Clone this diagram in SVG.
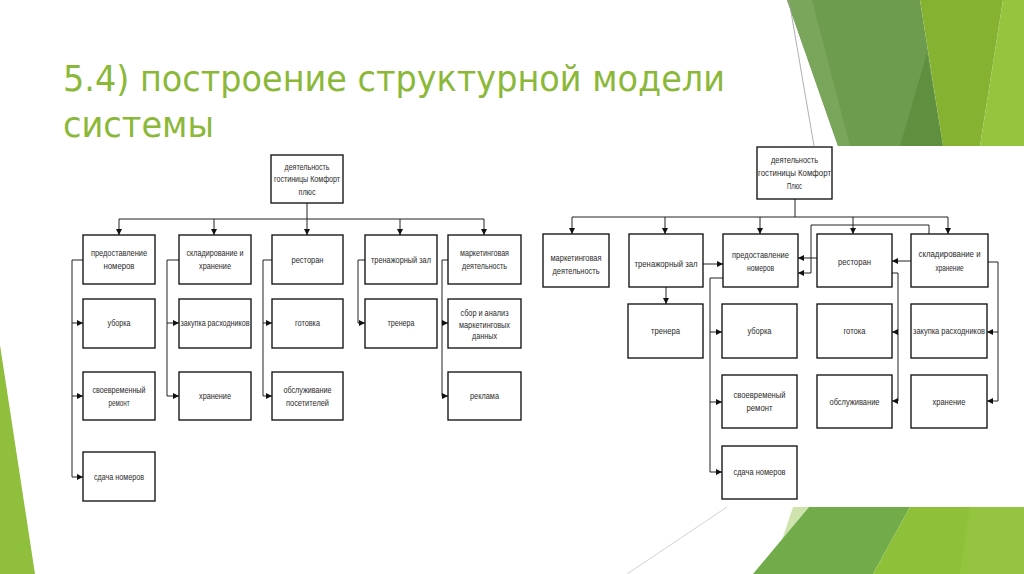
<svg xmlns="http://www.w3.org/2000/svg" width="1024" height="574" viewBox="0 0 1024 574">
<style>
.box{fill:#fff;stroke:#111;stroke-width:1.35}
.t{font-family:"Liberation Sans",Arial,sans-serif;font-size:9.5px;fill:#2a2a2a;text-anchor:middle}
.c{fill:none;stroke:#222;stroke-width:1}
.title{font-family:"DejaVu Sans Condensed","DejaVu Sans",sans-serif;font-size:35px;fill:#8BB838}
</style>
<defs>
<marker id="ah" markerUnits="userSpaceOnUse" markerWidth="6" markerHeight="6" refX="6" refY="3" orient="auto">
<path d="M0,0 L6,3 L0,6 z" fill="#111"/>
</marker>
</defs>
<rect width="1024" height="574" fill="#fff"/>
<g id="decor">
<polygon points="787,0 920,0 943,146 838,146" fill="#6E9C4E"/>
<polygon points="787,0 812,0 850,146 838,146" fill="#79A65A"/>
<polygon points="900,146 927,53 943,146" fill="#5F9040"/>
<polygon points="920,0 1003,0 980,146 943,146" fill="#86B232"/>
<polygon points="1003,0 1024,0 1024,146 980,146" fill="#95C43E"/>
<line x1="789" y1="0" x2="814" y2="146" stroke="#9a9a9a" stroke-width="0.8"/>
<polygon points="0,345 35,574 0,574" fill="#8FBF3D"/>
<line x1="727" y1="507" x2="627" y2="574" stroke="#c8c8c8" stroke-width="0.8"/>
<polygon points="793,507 809,507 782,540" fill="#CFE3AE"/>
<polygon points="809,507 910,507 873,574 753,574" fill="#72AC4A"/>
<polygon points="910,507 1024,507 1024,574 873,574" fill="#8EC03A"/>
<polygon points="970,507 1024,507 1024,574 960,574" fill="#95C540"/>
</g>
<g id="title">
<text class="title" x="63" y="91" textLength="662" lengthAdjust="spacingAndGlyphs">5.4) построение структурной модели</text>
<text class="title" x="63" y="137" textLength="151" lengthAdjust="spacingAndGlyphs">системы</text>
</g>
<g id="connectors">
<path class="c" d="M307,203 V235" marker-end="url(#ah)"/>
<path class="c" d="M119,219 H484"/>
<path class="c" d="M119,219 V235" marker-end="url(#ah)"/>
<path class="c" d="M214,219 V235" marker-end="url(#ah)"/>
<path class="c" d="M400,219 V235" marker-end="url(#ah)"/>
<path class="c" d="M484,219 V235" marker-end="url(#ah)"/>
<path class="c" d="M83,260 H72 V477 H83" marker-end="url(#ah)"/>
<path class="c" d="M72,323 H83" marker-end="url(#ah)"/>
<path class="c" d="M72,396 H83" marker-end="url(#ah)"/>
<path class="c" d="M179,260 H167 V396 H179" marker-end="url(#ah)"/>
<path class="c" d="M167,323 H179" marker-end="url(#ah)"/>
<path class="c" d="M272,260 H263 V396 H272" marker-end="url(#ah)"/>
<path class="c" d="M263,323 H272" marker-end="url(#ah)"/>
<path class="c" d="M365,260 H358 V323 H365" marker-end="url(#ah)"/>
<path class="c" d="M448,260 H442 V396 H448" marker-end="url(#ah)"/>
<path class="c" d="M442,323 H448" marker-end="url(#ah)"/>
<path class="c" d="M795,199 V217" stroke="#888"/>
<path class="c" d="M572,217 H948"/>
<path class="c" d="M572,217 V234" marker-end="url(#ah)"/>
<path class="c" d="M665,217 V234" marker-end="url(#ah)"/>
<path class="c" d="M760,217 V234" marker-end="url(#ah)"/>
<path class="c" d="M853,217 V234" marker-end="url(#ah)"/>
<path class="c" d="M948,217 V234" marker-end="url(#ah)"/>
<path class="c" d="M666,287 V304" marker-end="url(#ah)"/>
<path class="c" d="M703,264 H723" marker-end="url(#ah)"/>
<path class="c" d="M723,278 H710 V472 H722" marker-end="url(#ah)"/>
<path class="c" d="M710,332 H722" marker-end="url(#ah)"/>
<path class="c" d="M710,402 H722" marker-end="url(#ah)"/>
<path class="c" d="M817,258 H798" marker-end="url(#ah)"/>
<path class="c" d="M929,234 V225 H811 V273 H798" marker-end="url(#ah)"/>
<path class="c" d="M911,261 H892" marker-end="url(#ah)"/>
<path class="c" d="M892,273 H898 V401 H892" marker-end="url(#ah)"/>
<path class="c" d="M898,332 H892" marker-end="url(#ah)"/>
<path class="c" d="M988,262 H998 V401 H987" marker-end="url(#ah)"/>
<path class="c" d="M998,332 H987" marker-end="url(#ah)"/>
</g>
<g id="L-root"><rect class="box" x="271" y="155" width="72" height="48"/>
<text class="t" x="307" y="170" textLength="45" lengthAdjust="spacingAndGlyphs">деятельность</text>
<text class="t" x="307" y="182" textLength="66" lengthAdjust="spacingAndGlyphs">гостиницы Комфорт</text>
<text class="t" x="307" y="195" textLength="17" lengthAdjust="spacingAndGlyphs">плюс</text></g>
<g id="L1"><rect class="box" x="83" y="235" width="72" height="49"/>
<text class="t" x="119" y="256" textLength="56" lengthAdjust="spacingAndGlyphs">предоставление</text>
<text class="t" x="119" y="269" textLength="31" lengthAdjust="spacingAndGlyphs">номеров</text></g>
<g id="L2"><rect class="box" x="179" y="235" width="72" height="49"/>
<text class="t" x="215" y="256" textLength="57" lengthAdjust="spacingAndGlyphs">складирование и</text>
<text class="t" x="215" y="269" textLength="32" lengthAdjust="spacingAndGlyphs">хранение</text></g>
<g id="L3"><rect class="box" x="272" y="235" width="71" height="49"/>
<text class="t" x="307.5" y="263" textLength="32" lengthAdjust="spacingAndGlyphs">ресторан</text></g>
<g id="L4"><rect class="box" x="365" y="235" width="72" height="49"/>
<text class="t" x="401" y="263" textLength="60" lengthAdjust="spacingAndGlyphs">тренажорный зал</text></g>
<g id="L5"><rect class="box" x="448" y="235" width="73" height="49"/>
<text class="t" x="484.5" y="256" textLength="49" lengthAdjust="spacingAndGlyphs">маркетинговая</text>
<text class="t" x="484.5" y="269" textLength="45" lengthAdjust="spacingAndGlyphs">деятельность</text></g>
<g id="L1a"><rect class="box" x="83" y="299" width="72" height="49"/>
<text class="t" x="119" y="326" textLength="23" lengthAdjust="spacingAndGlyphs">уборка</text></g>
<g id="L2a"><rect class="box" x="179" y="299" width="72" height="49"/>
<text class="t" x="215" y="326" textLength="69" lengthAdjust="spacingAndGlyphs">закупка расходников</text></g>
<g id="L3a"><rect class="box" x="272" y="299" width="71" height="49"/>
<text class="t" x="307.5" y="326" textLength="25" lengthAdjust="spacingAndGlyphs">готовка</text></g>
<g id="L4a"><rect class="box" x="365" y="299" width="72" height="49"/>
<text class="t" x="401" y="326" textLength="27" lengthAdjust="spacingAndGlyphs">тренера</text></g>
<g id="L5a"><rect class="box" x="448" y="299" width="73" height="49"/>
<text class="t" x="484.5" y="316" textLength="48" lengthAdjust="spacingAndGlyphs">сбор и анализ</text>
<text class="t" x="484.5" y="327.5" textLength="51" lengthAdjust="spacingAndGlyphs">маркетинговых</text>
<text class="t" x="484.5" y="339" textLength="25" lengthAdjust="spacingAndGlyphs">данных</text></g>
<g id="L1b"><rect class="box" x="83" y="372" width="72" height="48"/>
<text class="t" x="119" y="393" textLength="53" lengthAdjust="spacingAndGlyphs">своевременный</text>
<text class="t" x="119" y="406" textLength="21" lengthAdjust="spacingAndGlyphs">ремонт</text></g>
<g id="L2b"><rect class="box" x="179" y="372" width="72" height="48"/>
<text class="t" x="215" y="399" textLength="32" lengthAdjust="spacingAndGlyphs">хранение</text></g>
<g id="L3b"><rect class="box" x="272" y="372" width="71" height="48"/>
<text class="t" x="307.5" y="393" textLength="48" lengthAdjust="spacingAndGlyphs">обслуживание</text>
<text class="t" x="307.5" y="406" textLength="43" lengthAdjust="spacingAndGlyphs">посетителей</text></g>
<g id="L5b"><rect class="box" x="448" y="372" width="73" height="48"/>
<text class="t" x="484.5" y="399" textLength="29" lengthAdjust="spacingAndGlyphs">реклама</text></g>
<g id="L1c"><rect class="box" x="83" y="452" width="72" height="49"/>
<text class="t" x="119" y="480" textLength="50" lengthAdjust="spacingAndGlyphs">сдача номеров</text></g>
<g id="R-root"><rect class="box" x="757" y="147" width="75" height="52"/>
<text class="t" x="794.5" y="163" textLength="47" lengthAdjust="spacingAndGlyphs">деятельность</text>
<text class="t" x="794.5" y="176" textLength="73" lengthAdjust="spacingAndGlyphs">гостиницы Комфорт</text>
<text class="t" x="794.5" y="189" textLength="15" lengthAdjust="spacingAndGlyphs">Плюс</text></g>
<g id="R1"><rect class="box" x="543" y="234" width="66" height="53"/>
<text class="t" x="576" y="261" textLength="51" lengthAdjust="spacingAndGlyphs">маркетинговая</text>
<text class="t" x="576" y="274" textLength="47" lengthAdjust="spacingAndGlyphs">деятельность</text></g>
<g id="R2"><rect class="box" x="629" y="234" width="74" height="53"/>
<text class="t" x="666" y="267" textLength="63" lengthAdjust="spacingAndGlyphs">тренажорный зал</text></g>
<g id="R3"><rect class="box" x="723" y="234" width="75" height="53"/>
<text class="t" x="760.5" y="258" textLength="57" lengthAdjust="spacingAndGlyphs">предоставление</text>
<text class="t" x="760.5" y="271" textLength="27" lengthAdjust="spacingAndGlyphs">номеров</text></g>
<g id="R4"><rect class="box" x="817" y="234" width="75" height="53"/>
<text class="t" x="854.5" y="265" textLength="33" lengthAdjust="spacingAndGlyphs">ресторан</text></g>
<g id="R5"><rect class="box" x="911" y="234" width="77" height="53"/>
<text class="t" x="949.5" y="257" textLength="62" lengthAdjust="spacingAndGlyphs">складирование и</text>
<text class="t" x="949.5" y="271" textLength="28" lengthAdjust="spacingAndGlyphs">хранение</text></g>
<g id="R2a"><rect class="box" x="628" y="304" width="75" height="54"/>
<text class="t" x="665.5" y="334" textLength="29" lengthAdjust="spacingAndGlyphs">тренера</text></g>
<g id="R3a"><rect class="box" x="722" y="304" width="75" height="54"/>
<text class="t" x="759.5" y="334" textLength="24" lengthAdjust="spacingAndGlyphs">уборка</text></g>
<g id="R4a"><rect class="box" x="817" y="304" width="75" height="54"/>
<text class="t" x="854.5" y="334" textLength="22" lengthAdjust="spacingAndGlyphs">готока</text></g>
<g id="R5a"><rect class="box" x="911" y="304" width="76" height="54"/>
<text class="t" x="949" y="334" textLength="72" lengthAdjust="spacingAndGlyphs">закупка расходников</text></g>
<g id="R3b"><rect class="box" x="722" y="375" width="75" height="53"/>
<text class="t" x="759.5" y="398" textLength="52" lengthAdjust="spacingAndGlyphs">своевременый</text>
<text class="t" x="759.5" y="411" textLength="26" lengthAdjust="spacingAndGlyphs">ремонт</text></g>
<g id="R4b"><rect class="box" x="817" y="375" width="75" height="53"/>
<text class="t" x="854.5" y="405" textLength="50" lengthAdjust="spacingAndGlyphs">обслуживание</text></g>
<g id="R5b"><rect class="box" x="911" y="375" width="76" height="53"/>
<text class="t" x="949" y="405" textLength="33" lengthAdjust="spacingAndGlyphs">хранение</text></g>
<g id="R3c"><rect class="box" x="722" y="446" width="75" height="53"/>
<text class="t" x="759.5" y="475" textLength="52" lengthAdjust="spacingAndGlyphs">сдача номеров</text></g>
</svg>
